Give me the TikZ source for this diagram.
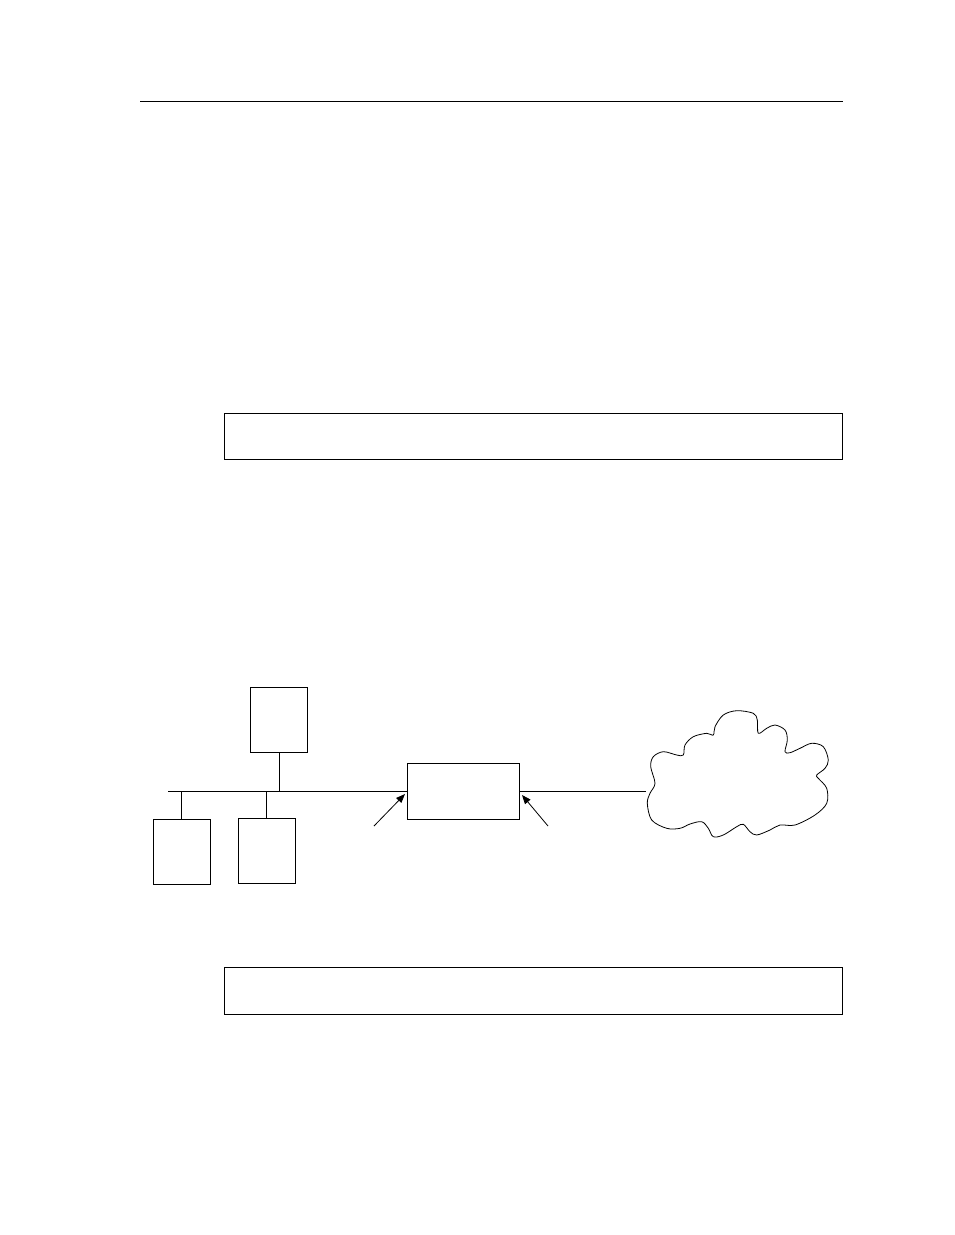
\documentclass[tikz,border=0pt]{standalone}
\usetikzlibrary{arrows.meta}
\begin{document}
\begin{tikzpicture}[x=1pt,y=-1pt,
  box/.style={draw,line width=1pt,rectangle,inner sep=0pt,outer sep=0pt},
  wire/.style={line width=1pt},
  pointer/.style={line width=0.8pt,-{Triangle[length=9pt,width=7pt]}},
  cloudline/.style={line width=0.8pt}]
\useasboundingbox (0,0) rectangle (954,1235);
% top rule
\coordinate (ruleL) at (140,101);
\coordinate (ruleR) at (843,101);
\draw[wire] (ruleL) -- (ruleR);
% caption boxes
\node[box,minimum width=618pt,minimum height=46pt] (cap1) at (533,436) {};
\node[box,minimum width=618pt,minimum height=47pt] (cap2) at (533,990.5) {};
% hosts
\node[box,minimum width=57pt,minimum height=65pt] (hostT) at (279,719.5) {};
\node[box,minimum width=57pt,minimum height=65pt] (hostL) at (181.5,851.5) {};
\node[box,minimum width=57pt,minimum height=65pt] (hostM) at (266.5,850.5) {};
% router
\node[box,minimum width=112pt,minimum height=56pt] (router) at (463,791) {};
% bus
\coordinate (busL) at (168,791);
\coordinate (cloudL) at (646,791);
\draw[wire] (busL) -- (router.west);
\draw[wire] (router.east) -- (cloudL);
\draw[wire] (hostT.south) -- (hostT.south |- busL);
\draw[wire] (hostL.north) -- (hostL.north |- busL);
\draw[wire] (hostM.north) -- (hostM.north |- busL);
% pointers
\coordinate (p1s) at (374,826);
\coordinate (p1e) at (405,794);
\coordinate (p2s) at (548,826);
\coordinate (p2e) at (522,795);
\draw[pointer] (p1s) -- (p1e);
\draw[pointer] (p2s) -- (p2e);
% cloud
\draw[cloudline] plot[smooth cycle,tension=0.55] coordinates {
(713.3,735) (715,726.7) (723.3,715) (736.7,710.7) (753.3,713.3) (757.3,720) (758.3,733.3)
(766.7,728.3) (775,725) (785,730) (787.3,740) (785,751.7)
(790,752.7) (800,748.3) (811.7,743.3) (823.3,746.7) (828.3,760) (825,768.3) (816.7,775)
(818.3,778.3) (826.7,788.3) (826.7,803.3) (815,815) (795,825) (780,825)
(770,830) (756.7,835) (750,831.7) (743.3,824.3) (736.7,826.7) (723.3,835) (713.3,836.7) (708.3,828.3) (701.7,821.7) (690,824) (680,828.3) (666.7,828.3) (651.7,820) (647.3,803.3) (650,793.3) (655,783.3)
(650.7,766.7) (653.3,756.7) (663.3,751.7) (676.7,755) (683.3,755) (685,745) (693.3,736.7) (706.7,733.3)};
\end{tikzpicture}
\end{document}
